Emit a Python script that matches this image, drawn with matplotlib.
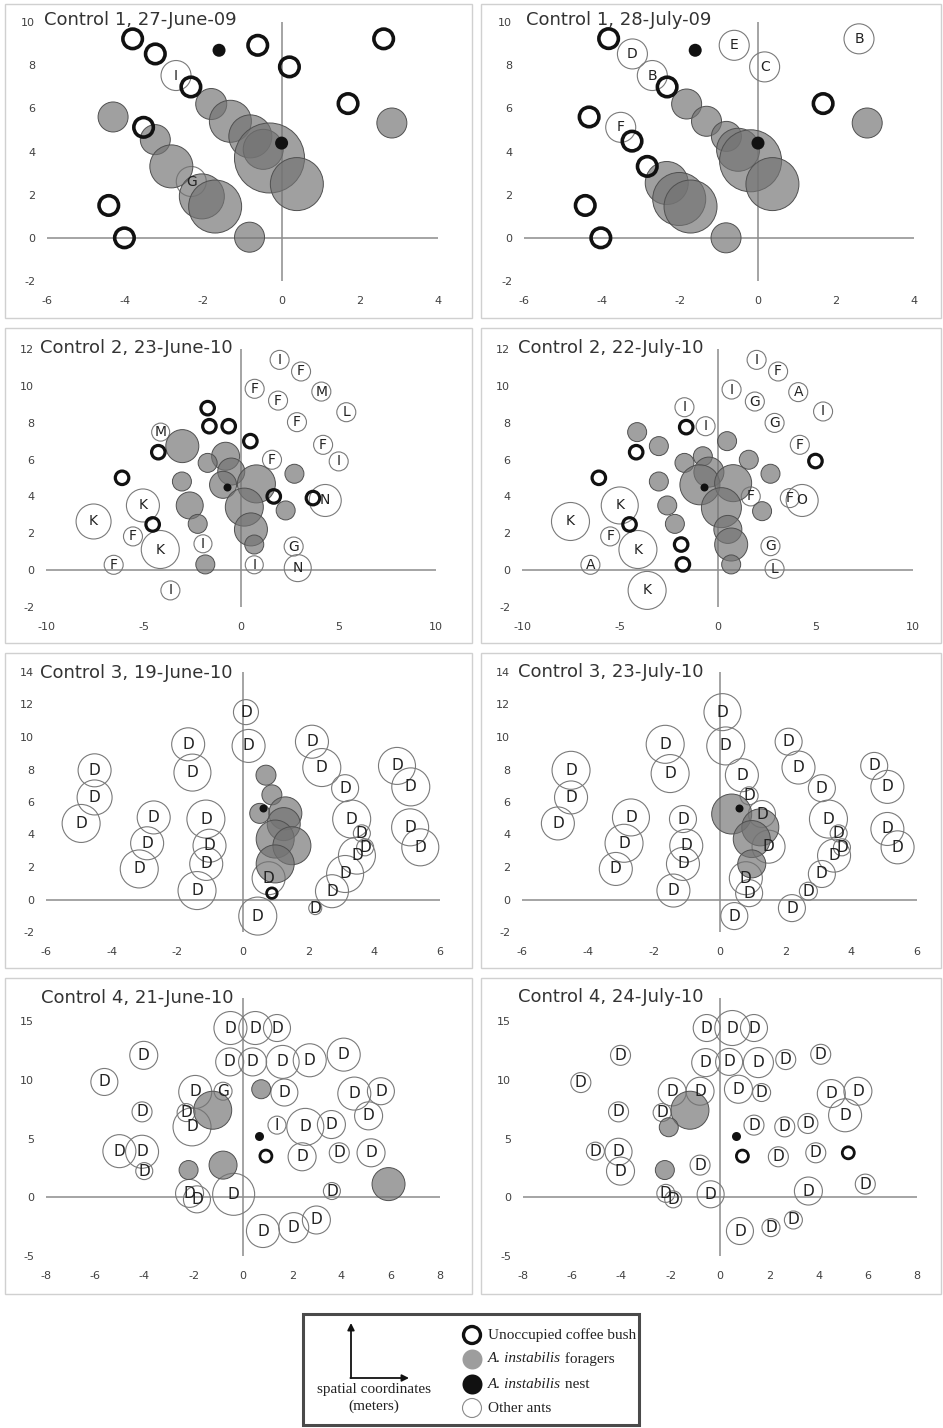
import numpy as np
import matplotlib
matplotlib.use("Agg")
import matplotlib.pyplot as plt
from matplotlib.patches import Rectangle

plt.rcParams['axes.unicode_minus'] = False
plt.rcParams['font.family'] = ['DejaVu Sans']

# ---------------- data (metres), bubble size = diameter ----------------
# Control 1, 27-June-09
c1jun_unocc_x = [-3.81, -3.23, -0.61, 0.20, 2.61, -2.32, 1.70, -3.53, -4.42, -4.02]
c1jun_unocc_y = [9.22, 8.52, 8.92, 7.92, 9.22, 6.99, 6.22, 5.12, 1.50, 0.0]
c1jun_nest_x = [-1.60, 0.0]
c1jun_nest_y = [8.69, 4.39]
c1jun_for_x = [-4.31, -1.80, -1.31, -0.80, -0.47, -0.31, 0.39, -3.23, -2.82, -2.04, -1.70, -0.82, 2.82]
c1jun_for_y = [5.60, 6.20, 5.40, 4.70, 4.10, 3.70, 2.49, 4.55, 3.31, 1.92, 1.45, 0.03, 5.32]
c1jun_for_s = [30, 31, 42, 43, 40, 70, 53, 30, 43, 45, 53, 30, 30]
c1jun_oth_x = [-2.70, -2.31]
c1jun_oth_y = [7.52, 2.61]
c1jun_oth_s = [30, 30]
c1jun_oth_lab = ['I', 'G']

# Control 1, 28-July-09
c1jul_unocc_x = [-3.83, -2.33, -4.33, -3.23, -2.84, -4.43, -4.03, 1.67]
c1jul_unocc_y = [9.23, 6.99, 5.60, 4.48, 3.31, 1.50, 0.0, 6.22]
c1jul_nest_x = [-1.61, 0.0]
c1jul_nest_y = [8.69, 4.39]
c1jul_for_x = [-1.83, -1.32, -0.81, -0.51, -0.19, 0.37, -2.34, -2.02, -1.73, -0.82, 2.80]
c1jul_for_y = [6.20, 5.40, 4.70, 4.08, 3.57, 2.49, 2.54, 1.80, 1.45, 0.0, 5.32]
c1jul_for_s = [30, 30, 30, 43, 62, 53, 43, 53, 53, 30, 30]
c1jul_oth_x = [-3.22, -2.71, -0.61, 0.17, 2.59, -3.52]
c1jul_oth_y = [8.52, 7.52, 8.92, 7.92, 9.22, 5.12]
c1jul_oth_s = [30, 30, 30, 30, 30, 30]
c1jul_oth_lab = ['D', 'B', 'E', 'C', 'B', 'F']

# Control 2, 23-June-10
c2jun_unocc_x = [-1.71, -1.62, -0.63, 0.48, -4.24, -6.10, 1.68, 3.69, -4.53]
c2jun_unocc_y = [8.79, 7.81, 7.81, 7.00, 6.40, 5.01, 4.00, 3.91, 2.48]
c2jun_nest_x = [-0.72]
c2jun_nest_y = [4.50]
c2jun_for_x = [-3.01, -0.79, -1.71, -0.50, -3.03, -0.92, 0.79, 2.74, -2.63, 0.17, 2.29, -2.22, 0.51, 0.68, -1.83]
c2jun_for_y = [6.73, 6.18, 5.82, 5.35, 4.81, 4.63, 4.68, 5.23, 3.51, 3.42, 3.24, 2.51, 2.21, 1.39, 0.31]
c2jun_for_s = [33, 28, 19, 27, 19, 27, 38, 19, 27, 38, 19, 19, 33, 19, 19]
c2jun_oth_x = [1.98, 3.08, 0.70, 4.12, 1.90, 5.40, 2.87, -4.12, 4.21, 5.01, 1.59, 4.32, -5.03, -7.56,
               -5.54, -4.14, -1.95, -6.53, 0.68, 2.70, 2.91, -3.62]
c2jun_oth_y = [11.41, 10.78, 9.84, 9.69, 9.20, 8.57, 8.03, 7.49, 6.80, 5.90, 5.99, 3.78, 3.51, 2.64,
               1.83, 1.12, 1.43, 0.29, 0.29, 1.28, 0.11, -1.10]
c2jun_oth_s = [19, 19, 19, 19, 19, 19, 19, 18, 19, 19, 19, 32, 33, 35, 19, 38, 18, 19, 18, 19, 27, 19]
c2jun_oth_lab = ['I', 'F', 'F', 'M', 'F', 'L', 'F', 'M', 'F', 'I', 'F', 'N', 'K', 'K',
                 'F', 'K', 'I', 'F', 'I', 'G', 'N', 'I']

# Control 2, 22-July-10
c2jul_unocc_x = [-1.60, -4.16, -6.07, -4.50, -1.86, -1.77, 5.01]
c2jul_unocc_y = [7.76, 6.40, 5.01, 2.48, 1.39, 0.31, 5.92]
c2jul_nest_x = [-0.70]
c2jul_nest_y = [4.50]
c2jul_for_x = [-4.11, -3.0, 0.49, -0.75, -1.69, 1.60, -0.44, 2.71, -3.0, -0.90, 0.80, -2.57, 0.20,
               2.28, -2.18, 0.53, 0.70, 0.70]
c2jul_for_y = [7.49, 6.73, 7.0, 6.18, 5.82, 5.99, 5.32, 5.23, 4.81, 4.63, 4.72, 3.51, 3.39,
               3.20, 2.51, 2.21, 1.39, 0.31]
c2jul_for_s = [19, 19, 19, 19, 19, 19, 30, 19, 19, 40, 37, 19, 40, 19, 19, 28, 33, 19]
c2jul_oth_x = [2.0, 3.10, 0.72, 4.13, 1.91, 5.40, -1.69, 2.92, -0.61, 4.21, 1.70, 3.70, 4.33, -5.00,
               -7.52, -5.49, -4.07, -6.50, 2.71, 2.92, -3.60]
c2jul_oth_y = [11.41, 10.78, 9.80, 9.66, 9.15, 8.61, 8.84, 7.99, 7.81, 6.80, 4.0, 3.91, 3.78, 3.51,
               2.64, 1.83, 1.12, 0.29, 1.30, 0.07, -1.10]
c2jul_oth_s = [19, 19, 19, 19, 19, 19, 19, 19, 19, 19, 19, 19, 32, 37, 38, 19, 38, 19, 19, 19, 38]
c2jul_oth_lab = ['I', 'F', 'I', 'A', 'G', 'I', 'I', 'G', 'I', 'F', 'F', 'F', 'O', 'K',
                 'K', 'F', 'K', 'A', 'G', 'L', 'K']

# Control 3, 19-June-10
c3jun_unocc_x = [0.88]
c3jun_unocc_y = [0.39]
c3jun_nest_x = [0.61]
c3jun_nest_y = [5.66]
c3jun_for_x = [0.70, 0.88, 0.51, 1.29, 1.24, 0.98, 1.49, 0.98]
c3jun_for_y = [7.65, 6.44, 5.30, 5.30, 4.64, 3.72, 3.31, 2.19]
c3jun_for_s = [20, 20, 20, 33, 33, 38, 38, 38]
c3jun_oth_x = [0.09, 0.17, -1.67, -1.54, -4.52, -4.52, -4.93, -2.72, -2.92, -3.16, -1.13, -1.02,
               -1.12, -1.40, 2.10, 2.40, 3.11, 3.31, 3.62, 3.72, 3.47, 3.11, 2.71, 2.20, 0.45,
               0.78, 4.69, 5.11, 5.09, 5.40]
c3jun_oth_y = [11.53, 9.45, 9.55, 7.81, 7.95, 6.28, 4.68, 5.05, 3.46, 1.88, 4.95, 3.31,
               2.19, 0.55, 9.71, 8.12, 6.85, 4.95, 4.07, 3.21, 2.70, 1.57, 0.51, -0.53, -1.02,
               1.31, 8.22, 6.93, 4.44, 3.21]
c3jun_oth_s = [25, 33, 33, 37, 33, 35, 38, 33, 33, 38, 38, 33, 33, 38, 33, 38, 27, 38, 17, 17,
               37, 37, 33, 13, 38, 33, 37, 38, 37, 37]
c3jun_oth_lab = ['D'] * len(c3jun_oth_x)

# Control 3, 23-July-10
c3jul_unocc_x = []
c3jul_unocc_y = []
c3jul_nest_x = [0.60]
c3jul_nest_y = [5.66]
c3jul_for_x = [0.37, 1.24, 0.98, 0.98]
c3jul_for_y = [5.26, 4.44, 3.72, 2.19]
c3jul_for_s = [40, 37, 37, 28]
c3jul_oth_x = [0.09, 0.19, -1.65, -1.50, -4.51, -4.51, -4.91, -2.69, -2.90, -3.15, -1.11, -1.01,
               -1.11, -1.40, 2.10, 2.40, 3.11, 3.31, 3.62, 3.72, 3.48, 3.11, 2.70, 2.20, 0.45,
               0.80, 0.90, 0.68, 0.90, 1.29, 1.49, 4.70, 5.10, 5.10, 5.41]
c3jul_oth_y = [11.53, 9.45, 9.55, 7.75, 7.95, 6.28, 4.68, 5.05, 3.46, 1.88, 4.95, 3.31,
               2.19, 0.55, 9.71, 8.12, 6.85, 4.95, 4.07, 3.21, 2.70, 1.57, 0.51, -0.53, -1.02,
               1.31, 0.39, 7.65, 6.38, 5.26, 3.25, 8.22, 6.93, 4.34, 3.21]
c3jul_oth_s = [37, 38, 38, 38, 38, 33, 33, 37, 38, 33, 27, 33, 33, 33, 27, 33, 27, 38, 17, 17,
               33, 27, 18, 27, 27, 33, 27, 33, 18, 27, 33, 27, 33, 33, 33]
c3jul_oth_lab = ['D'] * len(c3jul_oth_x)

# Control 4, 21-June-10
c4jun_unocc_x = [0.93]
c4jun_unocc_y = [3.52]
c4jun_nest_x = [0.64]
c4jun_nest_y = [5.25]
c4jun_for_x = [-1.23, 0.74, -2.21, -0.81, 5.91]
c4jun_for_y = [7.43, 9.22, 2.33, 2.75, 1.13]
c4jun_for_s = [38, 19, 19, 28, 33]
c4jun_oth_x = [-0.51, 0.50, 1.38, -4.03, -0.54, 0.39, 1.61, 2.71, 4.09, -5.63, -1.94, -0.81, 1.68,
               4.52, 5.60, -4.10, -2.31, 5.10, 1.38, 2.53, 3.59, -2.07, -5.02, -4.10, -4.01, 2.40,
               3.91, 5.20, 3.61, -2.17, -1.87, -0.38, 0.81, 2.06, 2.98]
c4jun_oth_y = [14.44, 14.44, 14.44, 12.11, 11.55, 11.55, 11.55, 11.69, 12.17, 9.84, 8.99, 9.05, 8.94,
               8.85, 9.05, 7.29, 7.23, 6.95, 6.16, 6.01, 6.21, 6.01, 3.94, 3.89, 2.24, 3.46,
               3.80, 3.80, 0.54, 0.34, -0.17, 0.26, -2.87, -2.58, -1.93]
c4jun_oth_s = [33, 33, 27, 28, 28, 28, 33, 33, 33, 27, 33, 18, 27, 33, 27, 20, 18, 28, 18, 37, 28,
               38, 33, 33, 17, 28, 20, 28, 17, 28, 27, 42, 33, 30, 28]
c4jun_oth_lab = ['D'] * 11 + ['G'] + ['D'] * 6 + ['I'] + ['D'] * 16

# Control 4, 24-July-10
c4jul_unocc_x = [0.91, 5.21]
c4jul_unocc_y = [3.52, 3.80]
c4jul_nest_x = [0.64]
c4jul_nest_y = [5.25]
c4jul_for_x = [-1.22, -2.08, -2.24]
c4jul_for_y = [7.43, 5.98, 2.33]
c4jul_for_s = [38, 19, 19]
c4jul_oth_x = [-0.54, 0.50, 1.38, -4.04, -0.58, 0.37, 1.56, 2.67, 4.09, -5.65, -1.94, -0.81, 0.75,
               1.69, 4.52, 5.60, -4.12, -2.35, 5.08, 1.38, 2.63, 3.57, -5.06, -4.12, -4.04, -0.81,
               2.37, 3.89, 5.90, 3.59, -2.20, -1.90, -0.38, 0.81, 2.07, 2.98]
c4jul_oth_y = [14.44, 14.44, 14.44, 12.11, 11.49, 11.55, 11.49, 11.75, 12.20, 9.79, 8.99, 9.05, 9.22,
               8.94, 8.85, 9.05, 7.29, 7.23, 7.00, 6.16, 6.01, 6.30, 3.94, 3.89, 2.24, 2.75,
               3.46, 3.80, 1.13, 0.54, 0.34, -0.17, 0.26, -2.87, -2.58, -1.93]
c4jul_oth_s = [27, 35, 27, 20, 28, 27, 30, 20, 20, 20, 28, 28, 28, 18, 28, 28, 20, 18, 33, 20, 20,
               20, 18, 27, 28, 20, 20, 20, 20, 28, 18, 17, 27, 27, 18, 18]
c4jul_oth_lab = ['D'] * len(c4jul_oth_x)

titles = ['Control 1, 27-June-09', 'Control 1, 28-July-09',
          'Control 2, 23-June-10', 'Control 2, 22-July-10',
          'Control 3, 19-June-10', 'Control 3, 23-July-10',
          'Control 4, 21-June-10', 'Control 4, 24-July-10']

panel_data = [
    (c1jun_unocc_x, c1jun_unocc_y, c1jun_nest_x, c1jun_nest_y, c1jun_for_x, c1jun_for_y, c1jun_for_s,
     c1jun_oth_x, c1jun_oth_y, c1jun_oth_s, c1jun_oth_lab),
    (c1jul_unocc_x, c1jul_unocc_y, c1jul_nest_x, c1jul_nest_y, c1jul_for_x, c1jul_for_y, c1jul_for_s,
     c1jul_oth_x, c1jul_oth_y, c1jul_oth_s, c1jul_oth_lab),
    (c2jun_unocc_x, c2jun_unocc_y, c2jun_nest_x, c2jun_nest_y, c2jun_for_x, c2jun_for_y, c2jun_for_s,
     c2jun_oth_x, c2jun_oth_y, c2jun_oth_s, c2jun_oth_lab),
    (c2jul_unocc_x, c2jul_unocc_y, c2jul_nest_x, c2jul_nest_y, c2jul_for_x, c2jul_for_y, c2jul_for_s,
     c2jul_oth_x, c2jul_oth_y, c2jul_oth_s, c2jul_oth_lab),
    (c3jun_unocc_x, c3jun_unocc_y, c3jun_nest_x, c3jun_nest_y, c3jun_for_x, c3jun_for_y, c3jun_for_s,
     c3jun_oth_x, c3jun_oth_y, c3jun_oth_s, c3jun_oth_lab),
    (c3jul_unocc_x, c3jul_unocc_y, c3jul_nest_x, c3jul_nest_y, c3jul_for_x, c3jul_for_y, c3jul_for_s,
     c3jul_oth_x, c3jul_oth_y, c3jul_oth_s, c3jul_oth_lab),
    (c4jun_unocc_x, c4jun_unocc_y, c4jun_nest_x, c4jun_nest_y, c4jun_for_x, c4jun_for_y, c4jun_for_s,
     c4jun_oth_x, c4jun_oth_y, c4jun_oth_s, c4jun_oth_lab),
    (c4jul_unocc_x, c4jul_unocc_y, c4jul_nest_x, c4jul_nest_y, c4jul_for_x, c4jul_for_y, c4jul_for_s,
     c4jul_oth_x, c4jul_oth_y, c4jul_oth_s, c4jul_oth_lab),
]

# ---------------- layout (pixels) ----------------
W, H = 943, 1428
fig = plt.figure(figsize=(W / 100, H / 100), dpi=100)

# plot area: left, top, right, bottom
axes_px = [(47, 22, 438, 281), (524, 22, 914, 281),
           (46, 349, 436, 607), (522, 349, 913, 607),
           (46, 672, 440, 932), (522, 672, 917, 932),
           (46, 998, 440, 1256), (523, 998, 917, 1256)]
frames_px = [(5, 4, 472, 318), (481, 4, 941, 318),
             (5, 328, 472, 643), (481, 328, 941, 643),
             (5, 653, 472, 968), (481, 653, 941, 968),
             (5, 978, 472, 1294), (481, 978, 941, 1294)]
title_px = [(44, 25), (526, 25), (40, 353), (518, 353),
            (40, 678), (518, 677), (41, 1003), (518, 1002)]

row_lims = [((-6, 4), (-2, 10), np.arange(-6, 5, 2), np.arange(-2, 11, 2)),
            ((-10, 10), (-2, 12), np.arange(-10, 11, 5), np.arange(-2, 13, 2)),
            ((-6, 6), (-2, 14), np.arange(-6, 7, 2), np.arange(-2, 15, 2)),
            ((-8, 8), (-5, 17), np.arange(-8, 9, 2), np.arange(-5, 16, 5))]
# ring diameter px, ring lw pt, nest diameter px, letter size
row_style = [(19.5, 2.6, 13, 10), (13.5, 2.3, 8, 10), (10.5, 2.0, 8, 11), (12, 2.0, 9, 11)]

PT = 0.72  # points per pixel


def sz(d):
    return (np.asarray(d, dtype=float) * PT) ** 2


FOR_FACE = (0.45, 0.45, 0.45, 0.68)
FOR_EDGE = '#505050'
OTH_EDGE = '#7a7a7a'

for i, data in enumerate(panel_data):
    ux, uy, nx, ny, fx, fy, fs, ox, oy, os_, olab = data
    l, t, r, b = axes_px[i]
    ax = fig.add_axes([l / W, 1 - b / H, (r - l) / W, (b - t) / H])
    ax.patch.set_alpha(0)
    xl, yl, xt, yt = row_lims[i // 2]
    ring_d, ring_lw, nest_d, lab_fs = row_style[i // 2]
    ax.set_xlim(*xl)
    ax.set_ylim(*yl)
    ax.set_xticks(xt)
    ax.set_yticks(yt)
    for sp in ax.spines.values():
        sp.set_visible(False)
    ax.tick_params(axis='both', length=0, labelsize=8, colors='#404040')
    ax.tick_params(axis='x', pad=10.5)
    ax.tick_params(axis='y', pad=8.5)
    ax.axhline(0, color='#8c8c8c', lw=1.1, zorder=0)
    ax.axvline(0, color='#8c8c8c', lw=1.1, zorder=0)

    ax.scatter(ox, oy, s=sz(os_), facecolors='none', edgecolors=OTH_EDGE, linewidths=0.8,
               zorder=2, clip_on=False)
    ax.scatter(fx, fy, s=sz(fs), facecolors=[FOR_FACE], edgecolors=FOR_EDGE, linewidths=0.7,
               zorder=3, clip_on=False)
    if len(ux):
        ax.scatter(ux, uy, s=sz([ring_d] * len(ux)), facecolors='none', edgecolors='#111111',
                   linewidths=ring_lw, zorder=4, clip_on=False)
    ax.scatter(nx, ny, s=sz([nest_d] * len(nx)), color='#111111', linewidths=0, zorder=5,
               clip_on=False)
    for x, y, lab in zip(ox, oy, olab):
        ax.text(x, y, lab, ha='center', va='center', fontsize=lab_fs, color='#222222', zorder=6)

# overlay in pixel coordinates: frames, titles, legend
ov = fig.add_axes([0, 0, 1, 1])
ov.set_xlim(0, W)
ov.set_ylim(H, 0)
ov.axis('off')
ov.patch.set_alpha(0)

for (l, t, r, b) in frames_px:
    ov.add_patch(Rectangle((l, t), r - l, b - t, fill=False, edgecolor='#d0d0d0', lw=1.0))
for (x, y), txt in zip(title_px, titles):
    ov.text(x, y, txt, fontsize=13, color='#333333', ha='left', va='baseline')

# legend box
ov.add_patch(Rectangle((303, 1314), 336, 111, fill=False, edgecolor='#4a4a4a', lw=2.2))
ov.annotate('', xy=(351, 1323), xytext=(351, 1378),
            arrowprops=dict(arrowstyle='-|>', color='#111111', lw=1.3, mutation_scale=10,
                            shrinkA=0, shrinkB=0))
ov.annotate('', xy=(409, 1378), xytext=(350.4, 1378),
            arrowprops=dict(arrowstyle='-|>', color='#111111', lw=1.3, mutation_scale=10,
                            shrinkA=0, shrinkB=0))
serif = ['Liberation Serif', 'DejaVu Serif']
ov.text(374, 1389, 'spatial coordinates', family=serif, fontsize=11, ha='center', va='center',
        color='#222222')
ov.text(374, 1406, '(meters)', family=serif, fontsize=11, ha='center', va='center',
        color='#222222')

leg_y = [1335, 1359, 1384, 1408]
ov.scatter([472], [leg_y[0]], s=sz(17), facecolors='none', edgecolors='#111111', linewidths=2.4)
ov.scatter([472], [leg_y[1]], s=sz(20), color='#9d9d9d', linewidths=0)
ov.scatter([472], [leg_y[2]], s=sz(20), color='#111111', linewidths=0)
ov.scatter([472], [leg_y[3]], s=sz(19), facecolors='none', edgecolors='#8a8a8a', linewidths=0.8)
ov.text(488, leg_y[0], 'Unoccupied coffee bush', family=serif, fontsize=11, va='center',
        color='#222222')
for yy, rest in [(leg_y[1], ' foragers'), (leg_y[2], ' nest')]:
    it = ov.text(488, yy, 'A. instabilis', family=serif, style='italic', fontsize=11,
                 va='center', color='#222222')
    ov.annotate(rest, xy=(1, 0.5), xycoords=it, family=serif, fontsize=11, va='center',
                ha='left', color='#222222')
ov.text(488, leg_y[3], 'Other ants', family=serif, fontsize=11, va='center', color='#222222')

fig.savefig('out.png', dpi=100)
